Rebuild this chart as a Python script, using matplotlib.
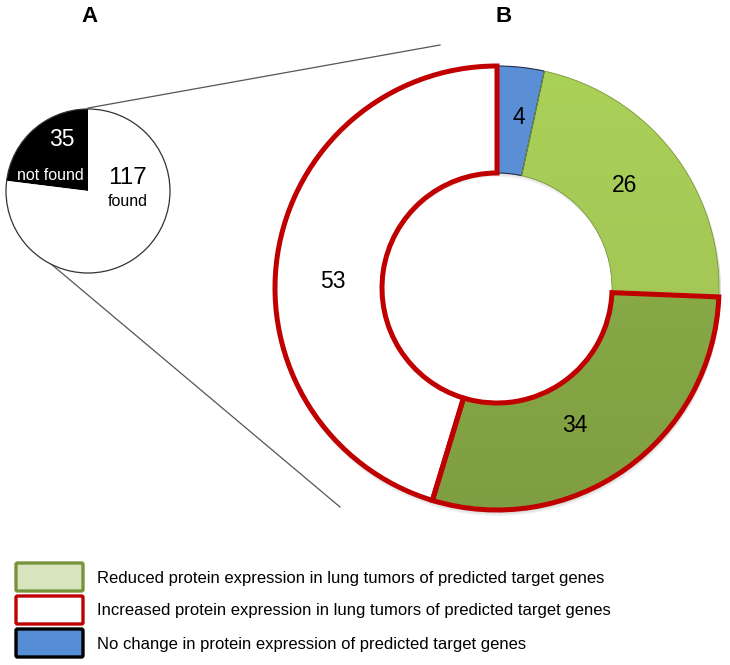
import matplotlib
matplotlib.use("Agg")
import matplotlib.pyplot as plt
import numpy as np
from matplotlib.colors import LinearSegmentedColormap
from matplotlib.patches import Wedge, FancyBboxPatch

# ---- data ----
pie_a_labels = ["not found", "found"]
pie_a_values = [35, 117]
donut_values = [4, 26, 34, 53]
legend_labels = [
    "Reduced protein expression in lung tumors of predicted target genes",
    "Increased protein expression in lung tumors of predicted target genes",
    "No change in protein expression of predicted target genes",
]

W, H = 730, 665
fig = plt.figure(figsize=(W / 100, H / 100), dpi=100)
ax = fig.add_axes([0, 0, 1, 1])
ax.set_xlim(0, W)
ax.set_ylim(0, H)
ax.set_aspect("equal")
ax.axis("off")

def Y(y):
    return H - y

FONT = ["Liberation Sans", "DejaVu Sans"]

# ---- panel labels ----
ax.text(90, Y(16), "A", fontsize=16, fontweight="bold", ha="center", va="center", family=FONT)
ax.text(504, Y(16), "B", fontsize=16, fontweight="bold", ha="center", va="center", family=FONT)

# ---- zoom lines ----
ax.plot([88, 440], [Y(108), Y(45)], color="#555555", lw=0.9, zorder=1)
ax.plot([32, 340], [Y(248), Y(507)], color="#555555", lw=0.9, zorder=1)

# ---- pie A ----
ca = (88, Y(191))
ra = 82
wa, _ = ax.pie(pie_a_values, colors=["black", "white"], startangle=90, counterclock=True,
               radius=ra, center=ca, wedgeprops=dict(linewidth=0), frame=True)
circ = plt.Circle(ca, ra, fill=False, edgecolor="#333333", lw=0.9, zorder=3)
ax.add_patch(circ)
ax.text(62, Y(140), str(pie_a_values[0]), color="white", fontsize=16.5, ha="center", va="center", family=FONT, zorder=4)
ax.text(50, Y(175), pie_a_labels[0], color="white", fontsize=11.5, ha="center", va="center", family=FONT, zorder=4)
ax.text(128, Y(178), str(pie_a_values[1]), color="black", fontsize=17.5, ha="center", va="center", family=FONT, zorder=4)
ax.text(128, Y(201), pie_a_labels[1], color="black", fontsize=11.5, ha="center", va="center", family=FONT, zorder=4)

# ---- donut B ----
cb = (497, Y(288))
rb = 222
wid = 107

# soft shadow
for k, a in enumerate([0.05, 0.05, 0.05]):
    sh, _ = ax.pie(donut_values, colors=["#000000"] * 4, startangle=90, counterclock=False,
                   radius=rb + 1, center=(cb[0] + 1, cb[1] - 2 - k * 1.5),
                   wedgeprops=dict(width=wid, linewidth=0, alpha=a), frame=True)
    for s in sh:
        s.set_zorder(1.5)

fills = ["#5a8fd6", "#a3c855", "#8aad47", "white"]
wb, _ = ax.pie(donut_values, colors=fills, startangle=90, counterclock=False,
               radius=rb, center=cb, wedgeprops=dict(width=wid, linewidth=0), frame=True)
for w in wb:
    w.set_zorder(2)

# gradients on green wedges
grad_lg = LinearSegmentedColormap.from_list("lg", ["#9ebd55", "#aad158"])
grad_dg = LinearSegmentedColormap.from_list("dg", ["#7f9e41", "#90b44b"])
g = np.linspace(0, 1, 256).reshape(-1, 1)
ext = [cb[0] - rb, cb[0] + rb, cb[1] - rb, cb[1] + rb]
for w, cm in [(wb[1], grad_lg), (wb[2], grad_dg)]:
    im = ax.imshow(g, cmap=cm, extent=ext, origin="lower", aspect="auto", zorder=2.1)
    im.set_clip_path(w)

# edges
theta = [90]
for v in donut_values:
    theta.append(theta[-1] - v / sum(donut_values) * 360)
edge_specs = [("#1f2d4a", 0.8, 3), ("#7e9b3e", 0.6, 3), ("#c00000", 3.6, 4), ("#c00000", 3.6, 4)]
for i, (ec, lw, z) in enumerate(edge_specs):
    e = Wedge(cb, rb, theta[i + 1], theta[i], width=wid, fill=False, edgecolor=ec, lw=lw,
              zorder=z, joinstyle="miter")
    ax.add_patch(e)

lbl_pos = [(519, 117), (625, 186), (575, 426), (333, 282)]
for v, (x, y) in zip(donut_values, lbl_pos):
    ax.text(x, Y(y), str(v), fontsize=16.5, ha="center", va="center", family=FONT, zorder=5)

ax.set_xlim(0, W)
ax.set_ylim(0, H)
ax.axis("off")

# ---- legend ----
box_specs = [("#d7e4bd", "#77933c"), ("white", "#c00000"), ("#558ed5", "black")]
box_y = [563, 596, 629]
for (fc, ec), yb, lab in zip(box_specs, box_y, legend_labels):
    r = FancyBboxPatch((16, Y(yb + 28)), 67, 28, boxstyle="round,pad=0,rounding_size=1.5",
                       facecolor=fc, edgecolor=ec, lw=2.4, zorder=3)
    ax.add_patch(r)
    ax.text(97, Y(yb + 15), lab, fontsize=12, ha="left", va="center", family=FONT, zorder=4)

fig.savefig("out.png", dpi=100)
